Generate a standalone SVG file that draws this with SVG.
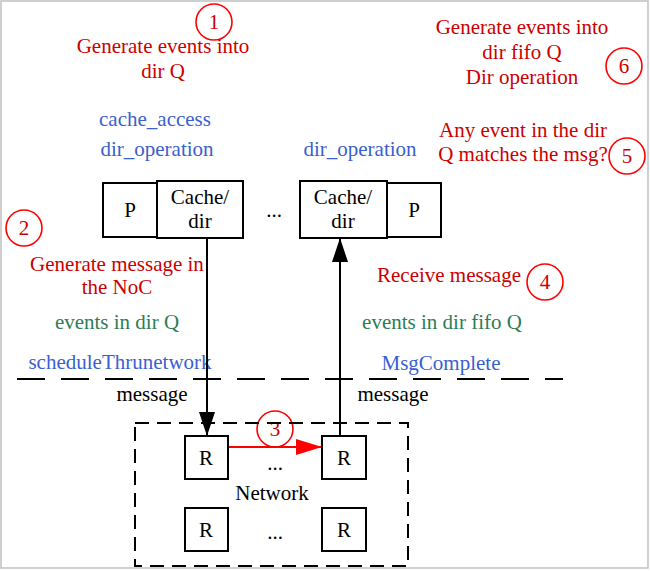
<svg xmlns="http://www.w3.org/2000/svg" width="650" height="571" viewBox="0 0 650 571">
<style>
text{font-family:"Liberation Serif","Times New Roman",serif;font-size:21px;text-anchor:middle}
.red{fill:#cc0000}
.blue{fill:#3a5fd0}
.green{fill:#2e7d55}
.blk{fill:#000}
.box{fill:#fff;stroke:#000;stroke-width:2}
.num{fill:none;stroke:#ff0000;stroke-width:1.6}
.ln{stroke:#000;stroke-width:2;fill:none}
</style>
<defs>
<marker id="ah" viewBox="0 0 24 16" refX="24" refY="8" markerWidth="24" markerHeight="16" markerUnits="userSpaceOnUse" orient="auto">
<path d="M0,0 L24,8 L0,16 Z" fill="#000"/>
</marker>
<marker id="ahr" viewBox="0 0 26 16" refX="26" refY="8" markerWidth="26" markerHeight="16" markerUnits="userSpaceOnUse" orient="auto">
<path d="M0,0 L26,8 L0,16 Z" fill="#ff0000"/>
</marker>
</defs>
<rect x="1" y="1" width="647" height="567" fill="#fff" stroke="#c0c0c0" stroke-width="1.5"/>

<g id="labels">
<text class="red" x="163" y="53">Generate events into</text>
<text class="red" x="163" y="78">dir Q</text>
<text class="blue" x="155" y="126">cache_access</text>
<text class="blue" x="157" y="156">dir_operation</text>
<text class="blue" x="360" y="156">dir_operation</text>
<text class="red" x="522" y="34">Generate events into</text>
<text class="red" x="522" y="59">dir fifo Q</text>
<text class="red" x="522" y="84">Dir operation</text>
<text class="red" x="523" y="137">Any event in the dir</text>
<text class="red" x="523" y="161">Q matches the msg?</text>
<text class="red" x="117" y="271">Generate message in</text>
<text class="red" x="117" y="294">the NoC</text>
<text class="green" x="117" y="329">events in dir Q</text>
<text class="blue" x="120" y="369">scheduleThrunetwork</text>
<text class="blk" x="152" y="401">message</text>
<text class="red" x="449" y="282">Receive message</text>
<text class="green" x="442" y="329">events in dir fifo Q</text>
<text class="blue" x="441" y="370">MsgComplete</text>
<text class="blk" x="393" y="401">message</text>
<text class="blk" x="274" y="217">...</text>
</g>

<g id="markers-num">
<g id="n1"><circle class="num" cx="214" cy="22" r="18"/><text class="red" x="214" y="29">1</text></g>
<g id="n2"><circle class="num" cx="24" cy="228" r="18"/><text class="red" x="24" y="235">2</text></g>
<g id="n3"><circle class="num" cx="275" cy="429" r="18"/><text class="red" x="275" y="436">3</text></g>
<g id="n4"><circle class="num" cx="545" cy="282" r="18"/><text class="red" x="545" y="289">4</text></g>
<g id="n5"><circle class="num" cx="627" cy="156" r="18"/><text class="red" x="627" y="163">5</text></g>
<g id="n6"><circle class="num" cx="624" cy="66" r="18"/><text class="red" x="624" y="73">6</text></g>
</g>

<g id="connectors">
<line x1="17" y1="379" x2="563" y2="379" stroke="#000" stroke-width="2" stroke-dasharray="28,16"/>
<line class="ln" x1="207" y1="238" x2="207" y2="436" marker-end="url(#ah)"/>
<line class="ln" x1="340" y1="436" x2="340" y2="238" marker-end="url(#ah)"/>
<line x1="228" y1="447" x2="322" y2="447" stroke="#ff0000" stroke-width="2" marker-end="url(#ahr)"/>
</g>

<g id="network">
<rect x="135" y="423" width="273" height="143" fill="none" stroke="#000" stroke-width="2" stroke-dasharray="14,8"/>
<text class="blk" x="272" y="500">Network</text>
<text class="blk" x="275" y="470">...</text>
<text class="blk" x="275" y="539">...</text>
</g>

<g id="p-left"><rect class="box" x="103" y="183" width="54" height="54"/><text class="blk" x="130" y="217">P</text></g>
<g id="cache-left"><rect class="box" x="157" y="181" width="86" height="57"/><text class="blk" x="200" y="204">Cache/</text><text class="blk" x="200" y="228">dir</text></g>
<g id="cache-right"><rect class="box" x="300" y="181" width="87" height="57"/><text class="blk" x="343" y="204">Cache/</text><text class="blk" x="343" y="228">dir</text></g>
<g id="p-right"><rect class="box" x="387" y="183" width="54" height="54"/><text class="blk" x="414" y="217">P</text></g>

<g id="r1"><rect class="box" x="185" y="436" width="43" height="43"/><text class="blk" x="206" y="465">R</text></g>
<g id="r2"><rect class="box" x="322" y="436" width="44" height="43"/><text class="blk" x="344" y="465">R</text></g>
<g id="r3"><rect class="box" x="185" y="508" width="43" height="43"/><text class="blk" x="206" y="537">R</text></g>
<g id="r4"><rect class="box" x="322" y="508" width="44" height="43"/><text class="blk" x="344" y="537">R</text></g>
</svg>
